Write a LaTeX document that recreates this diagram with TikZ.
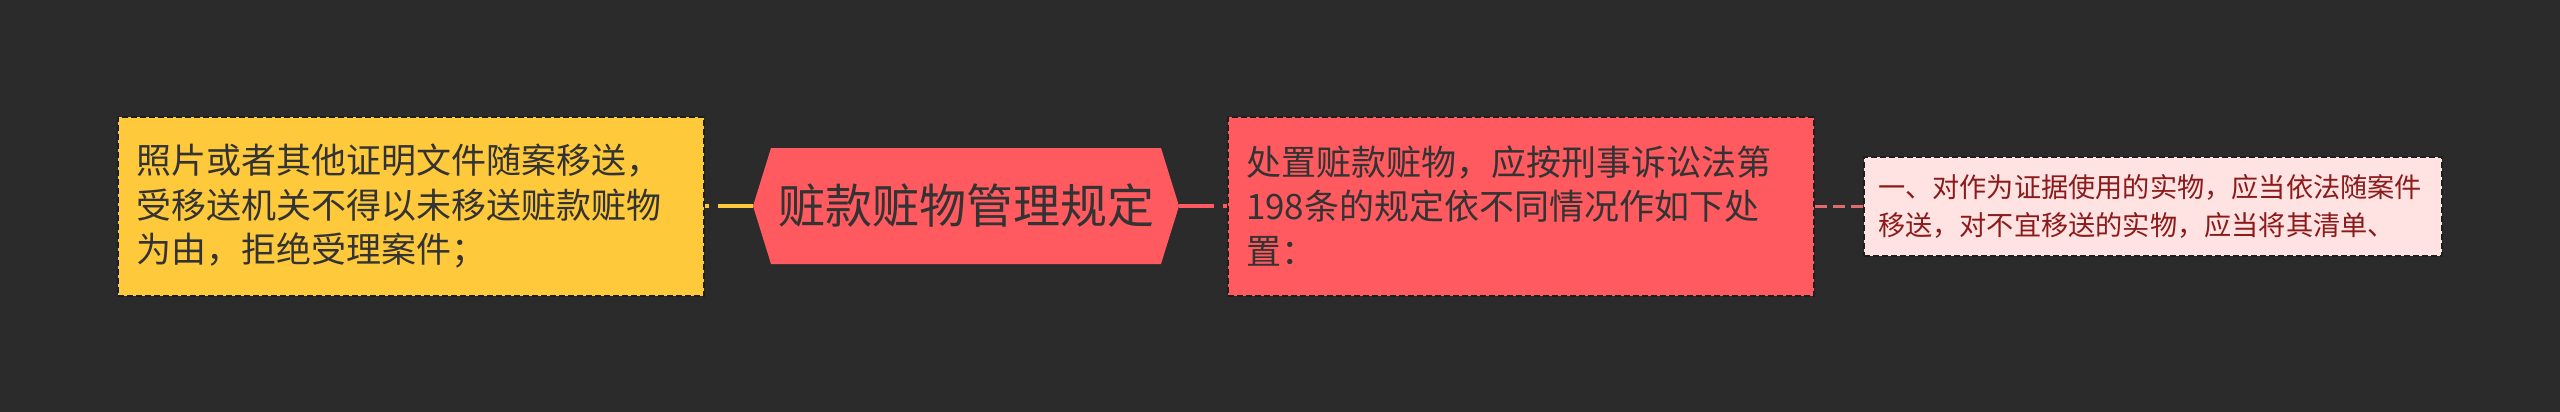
\documentclass[tikz,border=0pt]{standalone}
\usepackage{fontspec}
\newfontfamily\cjk{Noto Sans CJK SC}
\definecolor{bg}{HTML}{2B2B2B}
\definecolor{ybox}{HTML}{FFC93C}
\definecolor{rbox}{HTML}{FF5A5F}
\definecolor{pbox}{HTML}{FFE3E3}
\definecolor{ptext}{HTML}{8B1A1A}
\definecolor{dtext}{HTML}{333333}
\definecolor{bord}{HTML}{1E1E1E}
\definecolor{pline}{HTML}{E06A6E}
\begin{document}
\begin{tikzpicture}[x=1pt,y=-1pt,
  boxstyle/.style={rectangle, draw=bord, line width=2pt, dash pattern=on 6pt off 3pt,
     inner xsep=18pt, inner ysep=0pt, align=left, anchor=center},
  bigtext/.style={font=\cjk\fontsize{35}{44.5}\selectfont, text=dtext},
  conn/.style={line width=4pt, dash pattern=on 35pt off 9pt}
]
\fill[bg] (0,0) rectangle (2560,412);
\useasboundingbox (0,0) rectangle (2560,412);

% left yellow box
\node[boxstyle, bigtext, fill=ybox, minimum width=586pt, minimum height=179pt, text width=550pt]
  (left) at (411,206) {照片或者其他证明文件随案移送，\\受移送机关不得以未移送赃款赃物\\为由，拒绝受理案件；};

% root hexagon
\coordinate (hl) at (753,206);
\coordinate (hr) at (1179,206);
\fill[rbox] (hl) -- (771,148) -- (1161,148) -- (hr) -- (1161,264) -- (771,264) -- cycle;
\node[font=\cjk\fontsize{47}{56}\selectfont, text=dtext, inner sep=0pt] (root) at (966,206) {赃款赃物管理规定};

% right red box
\node[boxstyle, bigtext, fill=rbox, minimum width=586pt, minimum height=179pt, text width=550pt]
  (mid) at (1521,206) {处置赃款赃物，应按刑事诉讼法第\\198条的规定依不同情况作如下处\\置：};

% pink box
\node[boxstyle, fill=pbox, minimum width=578pt, minimum height=99pt, inner xsep=14pt, text width=550pt,
  font=\cjk\fontsize{27.2}{38}\selectfont, text=ptext]
  (leaf) at (2153,206) {一、对作为证据使用的实物，应当依法随案件\\移送，对不宜移送的实物，应当将其清单、};

% connectors
\draw[conn, draw=ybox] (hl) -- (left.east);
\draw[conn, draw=rbox] (hr) -- (mid.west);
\draw[line width=3pt, draw=pline, dash pattern=on 12pt off 6pt] (mid.east) -- (leaf.west);
\end{tikzpicture}
\end{document}
